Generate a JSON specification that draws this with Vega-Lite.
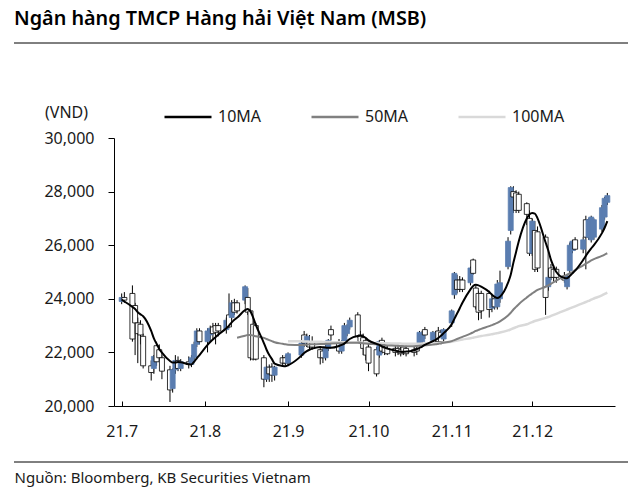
{
  "$schema": "https://vega.github.io/schema/vega-lite/v6.json",
  "width": 501,
  "height": 268,
  "autosize": {"type": "none"},
  "padding": {"left": 114, "top": 138, "right": 25, "bottom": 90},
  "background": "white",
  "config": {
    "view": {"stroke": null},
    "font": "Noto Sans",
    "axis": {"labelFont": "Noto Sans", "titleFont": "Noto Sans", "labelColor": "#1a1a1a", "titleColor": "#1a1a1a", "domainColor": "#000000", "tickColor": "#000000", "grid": false},
    "legend": {"labelFont": "Noto Sans"}
  },
  "title": {"text": "Ngân hàng TMCP Hàng hải Việt Nam (MSB)", "anchor": "start", "frame": "group", "dx": -100, "dy": -10, "font": "Noto Sans", "fontSize": 19.8, "fontWeight": 600, "color": "#000000"},
  "data": {"values": [
    {"d":"2021-07-01","o":23900,"h":24200,"l":23800,"c":24050,"m10":23960},
    {"d":"2021-07-02","o":24050,"h":24250,"l":23850,"c":23950,"m10":23900},
    {"d":"2021-07-05","o":24200,"h":24500,"l":22400,"c":22500,"m10":23700},
    {"d":"2021-07-06","o":23750,"h":23850,"l":21900,"c":23100,"m10":23620},
    {"d":"2021-07-07","o":23100,"h":23300,"l":21600,"c":22700,"m10":23500},
    {"d":"2021-07-08","o":23050,"h":23200,"l":22300,"c":22650,"m10":23420},
    {"d":"2021-07-09","o":22600,"h":22700,"l":21400,"c":21500,"m10":23350},
    {"d":"2021-07-12","o":21500,"h":21700,"l":20950,"c":21250,"m10":22800},
    {"d":"2021-07-13","o":21400,"h":21900,"l":21200,"c":21850,"m10":22520},
    {"d":"2021-07-14","o":22250,"h":22400,"l":21500,"c":21650,"m10":22320},
    {"d":"2021-07-15","o":22100,"h":22300,"l":21700,"c":21800,"m10":22130},
    {"d":"2021-07-16","o":21800,"h":21900,"l":21000,"c":21300,"m10":21990},
    {"d":"2021-07-19","o":21350,"h":21500,"l":20150,"c":20600,"m10":21680},
    {"d":"2021-07-20","o":20650,"h":21400,"l":20500,"c":21350,"m10":21620},
    {"d":"2021-07-21","o":21350,"h":21900,"l":21200,"c":21700,"m10":21620},
    {"d":"2021-07-22","o":21700,"h":21850,"l":21300,"c":21400,"m10":21640},
    {"d":"2021-07-23","o":21400,"h":21750,"l":21300,"c":21650,"m10":21630},
    {"d":"2021-07-26","o":21650,"h":21850,"l":21400,"c":21550,"m10":21560},
    {"d":"2021-07-27","o":21550,"h":21900,"l":21450,"c":21800,"m10":21550},
    {"d":"2021-07-28","o":21800,"h":22400,"l":21700,"c":22300,"m10":21650},
    {"d":"2021-07-29","o":22300,"h":22900,"l":22200,"c":22800,"m10":21780},
    {"d":"2021-07-30","o":22800,"h":22900,"l":22300,"c":22400,"m10":21900},
    {"d":"2021-08-02","o":22400,"h":22900,"l":22000,"c":22800,"m10":22280},
    {"d":"2021-08-03","o":22650,"h":23000,"l":22400,"c":22900,"m10":22390},
    {"d":"2021-08-04","o":22950,"h":23100,"l":22500,"c":22700,"m10":22480},
    {"d":"2021-08-05","o":23000,"h":23100,"l":22300,"c":22750,"m10":22570},
    {"d":"2021-08-06","o":23000,"h":23100,"l":22600,"c":22800,"m10":22660},
    {"d":"2021-08-09","o":22850,"h":23300,"l":22700,"c":23200,"m10":22900},
    {"d":"2021-08-10","o":23400,"h":24200,"l":22900,"c":22950,"m10":23000},
    {"d":"2021-08-11","o":23300,"h":23950,"l":23200,"c":23850,"m10":23120},
    {"d":"2021-08-12","o":23850,"h":24000,"l":23400,"c":23500,"m10":23220},
    {"d":"2021-08-13","o":23850,"h":23950,"l":23450,"c":23550,"m10":23290,"m50":22550},
    {"d":"2021-08-16","o":23950,"h":24500,"l":23800,"c":24450,"m10":23580,"m50":22620},
    {"d":"2021-08-17","o":24050,"h":24400,"l":23400,"c":23500,"m10":23620,"m50":22650},
    {"d":"2021-08-18","o":23550,"h":23600,"l":21700,"c":21800,"m10":23530,"m50":22650},
    {"d":"2021-08-19","o":23050,"h":23200,"l":21700,"c":21750,"m10":23300,"m50":22630},
    {"d":"2021-08-20","o":23000,"h":23100,"l":21700,"c":21750,"m10":23030,"m50":22600},
    {"d":"2021-08-23","o":21800,"h":21900,"l":20700,"c":21000,"m10":22350,"m50":22540},
    {"d":"2021-08-24","o":21000,"h":21500,"l":20900,"c":21450,"m10":22100,"m50":22500},
    {"d":"2021-08-25","o":21450,"h":21550,"l":20900,"c":21200,"m10":21900,"m50":22460},
    {"d":"2021-08-26","o":21450,"h":21600,"l":20900,"c":21150,"m10":21750,"m50":22420},
    {"d":"2021-08-27","o":21150,"h":21500,"l":20950,"c":21450,"m10":21580,"m50":22380},
    {"d":"2021-08-30","o":21800,"h":21900,"l":21500,"c":21600,"m10":21490,"m50":22320},
    {"d":"2021-08-31","o":21800,"h":21900,"l":21500,"c":21600,"m10":21480,"m50":22300},
    {"d":"2021-09-01","o":21600,"h":22000,"l":21500,"c":21950,"m10":21520,"m50":22290,"m100":22420},
    {"d":"2021-09-06","o":21900,"h":22400,"l":21800,"c":22350,"m10":21880,"m50":22280,"m100":22420},
    {"d":"2021-09-07","o":22650,"h":22800,"l":22200,"c":22350,"m10":21980,"m50":22280,"m100":22410},
    {"d":"2021-09-08","o":22350,"h":22700,"l":22200,"c":22600,"m10":22050,"m50":22290,"m100":22410},
    {"d":"2021-09-09","o":22400,"h":22650,"l":22100,"c":22200,"m10":22100,"m50":22300,"m100":22400},
    {"d":"2021-09-10","o":22400,"h":22600,"l":22100,"c":22200,"m10":22140,"m50":22300,"m100":22400},
    {"d":"2021-09-13","o":22100,"h":22200,"l":21550,"c":21800,"m10":22200,"m50":22310,"m100":22400},
    {"d":"2021-09-14","o":22050,"h":22150,"l":21600,"c":21800,"m10":22190,"m50":22310,"m100":22390},
    {"d":"2021-09-15","o":21800,"h":22300,"l":21700,"c":22200,"m10":22180,"m50":22320,"m100":22390},
    {"d":"2021-09-16","o":22150,"h":22500,"l":22050,"c":22450,"m10":22170,"m50":22320,"m100":22390},
    {"d":"2021-09-17","o":22850,"h":23000,"l":22450,"c":22650,"m10":22170,"m50":22330,"m100":22380},
    {"d":"2021-09-20","o":22350,"h":22500,"l":21950,"c":22050,"m10":22240,"m50":22340,"m100":22380},
    {"d":"2021-09-21","o":22050,"h":22450,"l":21950,"c":22350,"m10":22280,"m50":22340,"m100":22380},
    {"d":"2021-09-22","o":22350,"h":23100,"l":22300,"c":23000,"m10":22330,"m50":22350,"m100":22380},
    {"d":"2021-09-23","o":22700,"h":23050,"l":22600,"c":22950,"m10":22420,"m50":22350,"m100":22370},
    {"d":"2021-09-24","o":22950,"h":23300,"l":22850,"c":23200,"m10":22500,"m50":22360,"m100":22370},
    {"d":"2021-09-27","o":23400,"h":23500,"l":22550,"c":22600,"m10":22610,"m50":22360,"m100":22370},
    {"d":"2021-09-28","o":22650,"h":22800,"l":22300,"c":22400,"m10":22620,"m50":22350,"m100":22370},
    {"d":"2021-09-29","o":22550,"h":22700,"l":21900,"c":22150,"m10":22600,"m50":22340,"m100":22360},
    {"d":"2021-09-30","o":22450,"h":22550,"l":21700,"c":21900,"m10":22540,"m50":22330,"m100":22360},
    {"d":"2021-10-01","o":22200,"h":22350,"l":21300,"c":21600,"m10":22450,"m50":22320,"m100":22360},
    {"d":"2021-10-04","o":22100,"h":22200,"l":21100,"c":21200,"m10":22320,"m50":22300,"m100":22350},
    {"d":"2021-10-05","o":21900,"h":22450,"l":21800,"c":22400,"m10":22280,"m50":22290,"m100":22350},
    {"d":"2021-10-06","o":22450,"h":22550,"l":21950,"c":22050,"m10":22220,"m50":22280,"m100":22340},
    {"d":"2021-10-07","o":22200,"h":22300,"l":21900,"c":22000,"m10":22180,"m50":22270,"m100":22340},
    {"d":"2021-10-08","o":22150,"h":22250,"l":21900,"c":21950,"m10":22140,"m50":22260,"m100":22340},
    {"d":"2021-10-11","o":22150,"h":22250,"l":21850,"c":22000,"m10":22070,"m50":22250,"m100":22330},
    {"d":"2021-10-12","o":22150,"h":22300,"l":21900,"c":22050,"m10":22040,"m50":22240,"m100":22330},
    {"d":"2021-10-13","o":22100,"h":22200,"l":21850,"c":21950,"m10":22020,"m50":22240,"m100":22330},
    {"d":"2021-10-14","o":22200,"h":22250,"l":21900,"c":22000,"m10":22020,"m50":22230,"m100":22320},
    {"d":"2021-10-15","o":22150,"h":22250,"l":21850,"c":21950,"m10":22030,"m50":22230,"m100":22320},
    {"d":"2021-10-18","o":22100,"h":22250,"l":21850,"c":22000,"m10":22080,"m50":22230,"m100":22320},
    {"d":"2021-10-19","o":22150,"h":22300,"l":21900,"c":22050,"m10":22120,"m50":22240,"m100":22320},
    {"d":"2021-10-20","o":22350,"h":22800,"l":22300,"c":22750,"m10":22170,"m50":22250,"m100":22320},
    {"d":"2021-10-21","o":22400,"h":22800,"l":22300,"c":22700,"m10":22220,"m50":22260,"m100":22330},
    {"d":"2021-10-22","o":22850,"h":22950,"l":22500,"c":22650,"m10":22280,"m50":22270,"m100":22330},
    {"d":"2021-10-25","o":22450,"h":22800,"l":22350,"c":22750,"m10":22420,"m50":22290,"m100":22340},
    {"d":"2021-10-26","o":22500,"h":22800,"l":22400,"c":22700,"m10":22470,"m50":22300,"m100":22340},
    {"d":"2021-10-27","o":22800,"h":22950,"l":22300,"c":22400,"m10":22540,"m50":22320,"m100":22350},
    {"d":"2021-10-28","o":22750,"h":22850,"l":22300,"c":22400,"m10":22620,"m50":22340,"m100":22360},
    {"d":"2021-10-29","o":22500,"h":22900,"l":22400,"c":22850,"m10":22720,"m50":22360,"m100":22370},
    {"d":"2021-11-01","o":23100,"h":23600,"l":22950,"c":23550,"m10":23050,"m50":22420,"m100":22400},
    {"d":"2021-11-02","o":24150,"h":25000,"l":24000,"c":24950,"m10":23250,"m50":22460,"m100":22420},
    {"d":"2021-11-03","o":24700,"h":24900,"l":24200,"c":24350,"m10":23450,"m50":22500,"m100":22440},
    {"d":"2021-11-04","o":24700,"h":24850,"l":24250,"c":24350,"m10":23650,"m50":22540,"m100":22460},
    {"d":"2021-11-05","o":24700,"h":24800,"l":24250,"c":24350,"m10":23850,"m50":22580,"m100":22480},
    {"d":"2021-11-08","o":24600,"h":25200,"l":24500,"c":25150,"m10":24350,"m50":22700,"m100":22530},
    {"d":"2021-11-09","o":25450,"h":25500,"l":24900,"c":24950,"m10":24480,"m50":22750,"m100":22550},
    {"d":"2021-11-10","o":24400,"h":24500,"l":23600,"c":23700,"m10":24520,"m50":22800,"m100":22570},
    {"d":"2021-11-11","o":24200,"h":24300,"l":23200,"c":23500,"m10":24500,"m50":22840,"m100":22590},
    {"d":"2021-11-12","o":24200,"h":24300,"l":23250,"c":23550,"m10":24450,"m50":22880,"m100":22610},
    {"d":"2021-11-15","o":24200,"h":24300,"l":23300,"c":23600,"m10":24250,"m50":22980,"m100":22660},
    {"d":"2021-11-16","o":23650,"h":24100,"l":23500,"c":24000,"m10":24150,"m50":23020,"m100":22680},
    {"d":"2021-11-17","o":24000,"h":24100,"l":23600,"c":23700,"m10":24070,"m50":23060,"m100":22700},
    {"d":"2021-11-18","o":23700,"h":24700,"l":23600,"c":24550,"m10":24030,"m50":23100,"m100":22720},
    {"d":"2021-11-19","o":24000,"h":25050,"l":23850,"c":24600,"m10":24080,"m50":23160,"m100":22740},
    {"d":"2021-11-22","o":25200,"h":26300,"l":25100,"c":26150,"m10":24600,"m50":23380,"m100":22820},
    {"d":"2021-11-23","o":26550,"h":28200,"l":26400,"c":28150,"m10":24900,"m50":23480,"m100":22860},
    {"d":"2021-11-24","o":28000,"h":28200,"l":27200,"c":27800,"m10":25350,"m50":23600,"m100":22900},
    {"d":"2021-11-25","o":27950,"h":28050,"l":27200,"c":27300,"m10":25750,"m50":23700,"m100":22940},
    {"d":"2021-11-26","o":27900,"h":28000,"l":27200,"c":27300,"m10":26150,"m50":23800,"m100":22980},
    {"d":"2021-11-29","o":27550,"h":27600,"l":26750,"c":27150,"m10":27000,"m50":24050,"m100":23050},
    {"d":"2021-11-30","o":27000,"h":27300,"l":25600,"c":25700,"m10":27150,"m50":24130,"m100":23090},
    {"d":"2021-12-01","o":25700,"h":27000,"l":25600,"c":26900,"m10":27200,"m50":24200,"m100":23130},
    {"d":"2021-12-02","o":26550,"h":26900,"l":25000,"c":25100,"m10":27180,"m50":24270,"m100":23170},
    {"d":"2021-12-03","o":26500,"h":26700,"l":25000,"c":25150,"m10":27000,"m50":24330,"m100":23200},
    {"d":"2021-12-06","o":26300,"h":26400,"l":23400,"c":24050,"m10":26100,"m50":24450,"m100":23290},
    {"d":"2021-12-07","o":24450,"h":24900,"l":24300,"c":24800,"m10":25800,"m50":24500,"m100":23320},
    {"d":"2021-12-08","o":25150,"h":25300,"l":24700,"c":24800,"m10":25450,"m50":24560,"m100":23360},
    {"d":"2021-12-09","o":25100,"h":25250,"l":24650,"c":24800,"m10":25200,"m50":24620,"m100":23400},
    {"d":"2021-12-10","o":25100,"h":25200,"l":24600,"c":24800,"m10":25000,"m50":24680,"m100":23440},
    {"d":"2021-12-13","o":24850,"h":25000,"l":24600,"c":24700,"m10":24780,"m50":24850,"m100":23560},
    {"d":"2021-12-14","o":24450,"h":24900,"l":24350,"c":24850,"m10":24770,"m50":24900,"m100":23600},
    {"d":"2021-12-15","o":25050,"h":26100,"l":24950,"c":26000,"m10":24850,"m50":24950,"m100":23640},
    {"d":"2021-12-16","o":25800,"h":26200,"l":25700,"c":26150,"m10":24950,"m50":25000,"m100":23680},
    {"d":"2021-12-17","o":26200,"h":26300,"l":25800,"c":25850,"m10":25050,"m50":25070,"m100":23720},
    {"d":"2021-12-20","o":25850,"h":26300,"l":25700,"c":26200,"m10":25450,"m50":25250,"m100":23840},
    {"d":"2021-12-21","o":26950,"h":27100,"l":25100,"c":26300,"m10":25600,"m50":25310,"m100":23880},
    {"d":"2021-12-22","o":26300,"h":27000,"l":26200,"c":26950,"m10":25750,"m50":25370,"m100":23920},
    {"d":"2021-12-23","o":26200,"h":27100,"l":26100,"c":27050,"m10":25880,"m50":25430,"m100":23970},
    {"d":"2021-12-24","o":26300,"h":27000,"l":26200,"c":26950,"m10":26000,"m50":25480,"m100":24010},
    {"d":"2021-12-27","o":26600,"h":27500,"l":26500,"c":27400,"m10":26450,"m50":25600,"m100":24130},
    {"d":"2021-12-28","o":27050,"h":27800,"l":26950,"c":27750,"m10":26650,"m50":25650,"m100":24180},
    {"d":"2021-12-29","o":27600,"h":27950,"l":27500,"c":27850,"m10":26900,"m50":25700,"m100":24230}
  ]},
  "encoding": {
    "x": {
      "field": "d", "type": "temporal",
      "scale": {"type": "utc", "domain": [{"year": 2021, "month": 6, "date": 30, "utc": true}, {"year": 2021, "month": 12, "date": 30, "utc": true}]},
      "axis": {
        "values": [
          {"year": 2021, "month": 7, "date": 1, "utc": true},
          {"year": 2021, "month": 8, "date": 1, "utc": true},
          {"year": 2021, "month": 9, "date": 1, "utc": true},
          {"year": 2021, "month": 10, "date": 1, "utc": true},
          {"year": 2021, "month": 11, "date": 1, "utc": true},
          {"year": 2021, "month": 12, "date": 1, "utc": true}
        ],
        "labelExpr": "'21.' + (utcmonth(datum.value) + 1)",
        "labelFontSize": 16, "labelPadding": 22, "tickSize": -5, "labelFlush": false,
        "title": "Nguồn: Bloomberg, KB Securities Vietnam",
        "titleX": -100, "titleY": 71, "titleAnchor": "start", "titleAlign": "left", "titleBaseline": "middle",
        "titleFontSize": 15, "titleFontWeight": "normal", "titleColor": "#1a1a1a"
      }
    }
  },
  "layer": [
    {
      "mark": {"type": "rule", "color": "#000000", "strokeWidth": 1},
      "encoding": {
        "y": {"field": "l", "type": "quantitative", "scale": {"domain": [20000, 30000], "nice": false, "zero": false},
          "axis": {"values": [20000, 22000, 24000, 26000, 28000, 30000], "format": ",.0f", "labelFontSize": 16, "tickSize": 6, "labelPadding": 14,
            "title": "(VND)", "titleAngle": 0, "titleX": -48, "titleY": -26, "titleAlign": "center", "titleBaseline": "middle", "titleFontSize": 16, "titleFontWeight": "normal"}},
        "y2": {"field": "h"}
      }
    },
    {
      "mark": {"type": "bar", "size": 5, "strokeWidth": 0.8},
      "encoding": {
        "y": {"field": "o", "type": "quantitative"},
        "y2": {"field": "c"},
        "fill": {"condition": {"test": "datum.c > datum.o", "value": "#5a7db0"}, "value": "#ffffff"},
        "stroke": {"condition": {"test": "datum.c > datum.o", "value": "#5a7db0"}, "value": "#000000"}
      }
    },
    {
      "mark": {"type": "line", "strokeWidth": 2.5, "interpolate": "monotone"},
      "encoding": {
        "y": {"field": "m100", "type": "quantitative"},
        "color": {"datum": "100MA", "type": "nominal"}
      }
    },
    {
      "mark": {"type": "line", "strokeWidth": 2, "interpolate": "monotone"},
      "encoding": {
        "y": {"field": "m50", "type": "quantitative"},
        "color": {"datum": "50MA", "type": "nominal"}
      }
    },
    {
      "mark": {"type": "line", "strokeWidth": 2, "interpolate": "monotone"},
      "encoding": {
        "y": {"field": "m10", "type": "quantitative"},
        "color": {"datum": "10MA", "type": "nominal",
          "scale": {"domain": ["10MA", "50MA", "100MA"], "range": ["#000000", "#808080", "#d9d9d9"]},
          "legend": {"orient": "none", "legendX": 49, "legendY": -46, "direction": "horizontal", "title": null,
            "symbolType": "stroke", "symbolSize": 2209, "symbolStrokeWidth": 2.5, "labelFontSize": 16, "labelColor": "#1a1a1a",
            "labelOffset": 5, "columnPadding": 44}}
      }
    },
    {
      "data": {"values": [{"p": "top"}]},
      "mark": {"type": "rule", "color": "#000000", "strokeWidth": 1},
      "encoding": {"x": {"value": -100}, "x2": {"value": 514}, "y": {"value": -95}}
    },
    {
      "data": {"values": [{"p": "bottom"}]},
      "mark": {"type": "rule", "color": "#000000", "strokeWidth": 1},
      "encoding": {"x": {"value": -100}, "x2": {"value": 514}, "y": {"value": 324}}
    }
  ]
}
